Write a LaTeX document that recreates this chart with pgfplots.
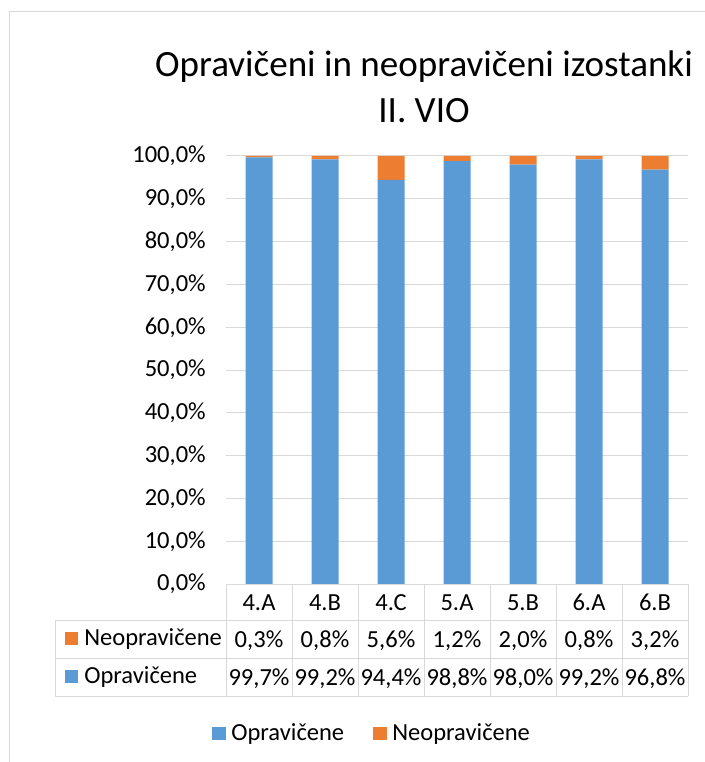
\documentclass[border=0pt]{standalone}
\usepackage{pgfplots}
\pgfplotsset{compat=1.18}
\usepackage{fontspec}
\setmainfont{Carlito}
\definecolor{opr}{HTML}{5B9BD5}
\definecolor{neo}{HTML}{ED7D31}
\definecolor{gridc}{HTML}{D9D9D9}
\newcommand{\lblfont}{\fontsize{18.4}{22}\selectfont}

\begin{document}
\begin{tikzpicture}[x=0.75pt,y=-0.75pt]
% picture frame in pixel units of the reference
\path[use as bounding box] (0,0) rectangle (705,762);
\draw[gridc, line width=0.75pt] (9,762) -- (9,12) -- (705,12);

\node[anchor=base, font=\fontsize{27.8}{33}\selectfont] at (424,77) {Opravičeni in neopravičeni izostanki};
\node[anchor=base, font=\fontsize{27.8}{33}\selectfont] at (424,123) {II. VIO};

\begin{axis}[
    at={(169.5pt,-438pt)}, anchor=south west,
    scale only axis,
    width=346.5pt, height=321pt,
    ybar stacked,
    bar width=20.25pt,
    xmin=-0.5, xmax=6.5,
    ymin=0, ymax=100,
    enlargelimits=false,
    xtick={0,...,6},
    xticklabels={4.A,4.B,4.C,5.A,5.B,6.A,6.B},
    ytick={0,10,...,100},
    axis line style={draw=none},
    xtick style={draw=none}, ytick style={draw=none},
    ymajorgrids,
    grid style={gridc, line width=0.75pt},
    /pgf/number format/assume math mode=true,
    yticklabel={\pgfmathprintnumber[fixed,fixed zerofill,precision=1,use comma]{\tick}\%},
    yticklabel style={font=\lblfont, anchor=east, inner sep=0pt, xshift=-15pt},
    xticklabel style={font=\lblfont, anchor=base, inner sep=0pt, yshift=-19.5pt},
]
\addplot[fill=opr, draw=none] coordinates {
    (0,99.7) (1,99.2) (2,94.4) (3,98.8) (4,98.0) (5,99.2) (6,96.8)
};
\addplot[fill=neo, draw=none] coordinates {
    (0,0.3) (1,0.8) (2,5.6) (3,1.2) (4,2.0) (5,0.8) (6,3.2)
};
\end{axis}

% data table under the axis
\begin{scope}[gridc, line width=0.75pt]
\draw (226,584) -- (688,584);
\draw (55,620) -- (688,620);
\draw (55,658) -- (688,658);
\draw (55,696) -- (688,696);
\draw (55,620) -- (55,696);
\foreach \k in {0,...,7} \draw ({226+66*\k},584) -- ({226+66*\k},696);
\end{scope}
\fill[neo] (65,632) rectangle (78,645);
\fill[opr] (65,670) rectangle (78,683);
\node[anchor=base west, inner sep=0pt, font=\lblfont] at (84,645) {Neopravičene};
\node[anchor=base west, inner sep=0pt, font=\lblfont] at (84,683) {Opravičene};
\foreach \v [count=\i from 0] in {{0,3\%},{0,8\%},{5,6\%},{1,2\%},{2,0\%},{0,8\%},{3,2\%}}
    \node[anchor=base, inner sep=0pt, font=\lblfont] at ({259+66*\i},647) {\v};
\foreach \v [count=\i from 0] in {{99,7\%},{99,2\%},{94,4\%},{98,8\%},{98,0\%},{99,2\%},{96,8\%}}
    \node[anchor=base, inner sep=0pt, font=\lblfont] at ({259+66*\i},685) {\v};

% legend
\fill[opr] (212,727) rectangle (226,740);
\node[anchor=base west, inner sep=0pt, font=\lblfont] at (231,740) {Opravičene};
\fill[neo] (373,727) rectangle (387,740);
\node[anchor=base west, inner sep=0pt, font=\lblfont] at (392,740) {Neopravičene};
\end{tikzpicture}
\end{document}
